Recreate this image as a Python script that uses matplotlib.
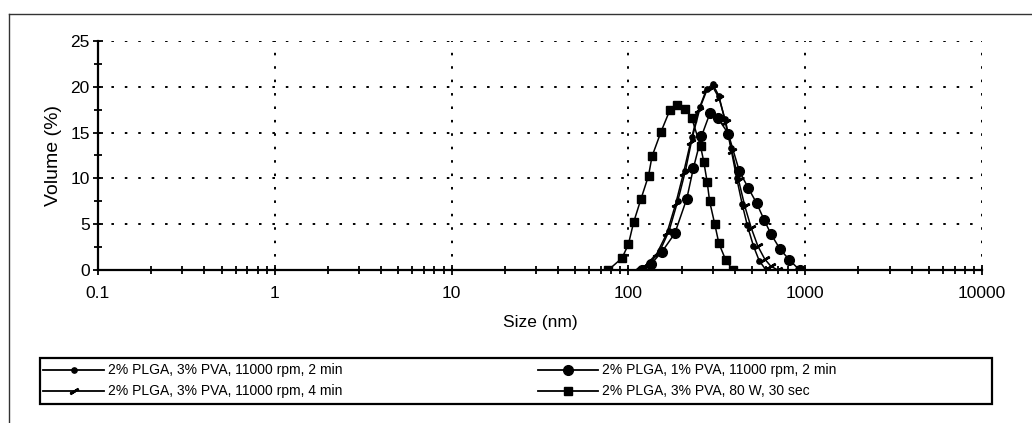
import matplotlib
matplotlib.use("Agg")
import matplotlib.pyplot as plt
from matplotlib.lines import Line2D
from matplotlib.patches import Rectangle
from matplotlib.ticker import LogLocator, FixedLocator, NullFormatter

plt.rcParams['font.family'] = ['Liberation Sans', 'DejaVu Sans']

# ---- data ----
sizes_a = [115, 130, 150, 170, 190, 210, 230, 255, 280, 300, 325, 350, 380, 410, 440, 470, 510, 550, 600]
vol_a   = [0, 0.6, 2.0, 4.3, 7.5, 10.8, 14.5, 17.8, 19.8, 20.3, 19.0, 16.5, 13.3, 10.0, 7.2, 4.9, 2.6, 1.0, 0]

sizes_b = [120, 135, 155, 183, 214, 233, 259, 289, 320, 367, 424, 475, 531, 585, 641, 720, 813, 930]
vol_b   = [0, 0.7, 2.0, 4.0, 7.8, 11.1, 14.6, 17.1, 16.6, 14.9, 10.8, 9.0, 7.3, 5.5, 3.9, 2.3, 1.1, 0]

sizes_c = [110, 125, 145, 165, 185, 205, 225, 250, 275, 300, 325, 355, 385, 420, 455, 495, 540, 590, 640, 700]
vol_c   = [0, 0.5, 1.8, 4.0, 7.2, 10.6, 14.0, 17.5, 19.6, 20.0, 18.8, 16.2, 13.0, 9.8, 7.0, 4.6, 2.6, 1.2, 0.4, 0]

sizes_d = [77, 92, 100, 107, 118, 130, 136, 153, 172, 189, 210, 228, 256, 267, 279, 288, 308, 325, 355, 390]
vol_d   = [0, 1.3, 2.8, 5.2, 7.8, 10.3, 12.4, 15.1, 17.5, 18.0, 17.6, 16.6, 13.5, 11.8, 9.6, 7.5, 5.0, 2.9, 1.1, 0]

labels = ["2% PLGA, 3% PVA, 11000 rpm, 2 min",
          "2% PLGA, 1% PVA, 11000 rpm, 2 min",
          "2% PLGA, 3% PVA, 11000 rpm, 4 min",
          "2% PLGA, 3% PVA, 80 W, 30 sec"]

x_ticks = [0.1, 1, 10, 100, 1000, 10000]
x_ticklabels = ["0.1", "1", "10", "100", "1000", "10000"]
y_ticks = [0, 5, 10, 15, 20, 25]

W, H = 1032, 423
fig = plt.figure(figsize=(W / 100, H / 100), dpi=100)
ax = fig.add_axes([98 / W, 1 - 270 / H, (982 - 98) / W, (270 - 41) / H])

styles = [
    dict(marker='o', ms=3.8),
    dict(marker='o', ms=7.0),
    dict(marker=(2, 2, -58), ms=7, mew=1.8),
    dict(marker='s', ms=5.2),
]
series = [(sizes_a, vol_a), (sizes_b, vol_b), (sizes_c, vol_c), (sizes_d, vol_d)]
for (xs, ys), st in zip(series, styles):
    ax.plot(xs, ys, color='black', lw=1.1, mfc='black', mec='black', zorder=3, **st)

ax.set_xscale('log')
ax.set_xlim(0.1, 10000)
ax.set_ylim(0, 25)
ax.xaxis.set_major_locator(FixedLocator(x_ticks))
ax.set_xticklabels(x_ticklabels)
ax.xaxis.set_minor_locator(LogLocator(base=10, subs=range(2, 10)))
ax.xaxis.set_minor_formatter(NullFormatter())
ax.yaxis.set_major_locator(FixedLocator(y_ticks))
ax.yaxis.set_minor_locator(FixedLocator([2.5, 7.5, 12.5, 17.5, 22.5]))

for s in ['top', 'right']:
    ax.spines[s].set_visible(False)
for s in ['left', 'bottom']:
    ax.spines[s].set_linewidth(1.6)

ax.tick_params(which='both', direction='inout', width=1.3, labelsize=12.5)
ax.tick_params(which='major', length=7)
ax.tick_params(which='minor', length=6)
ax.tick_params(axis='x', which='major', pad=8)
ax.tick_params(axis='y', which='major', pad=2.5)

ax.grid(True, which='major', color='black', lw=1.4, linestyle=(0, (1.3, 5.6)))
ax.set_axisbelow(True)

ax.set_xlabel("Size (nm)", fontsize=12.5, labelpad=10)
ax.set_ylabel("Volume (%)", fontsize=14, labelpad=6)

# ---- legend box ----
fig.add_artist(Rectangle((40 / W, 1 - 404 / H), (992 - 40) / W, (404 - 358) / H,
                         transform=fig.transFigure, fill=False, lw=1.6, ec='black'))
pos = [((43, 104), 370), ((538, 598), 370), ((43, 104), 391), ((538, 598), 391)]
for (xr, yy), st, lab in zip(pos, styles, labels):
    xm = (xr[0] + xr[1]) / 2
    fig.add_artist(Line2D([xr[0] / W, xr[1] / W], [1 - yy / H, 1 - yy / H],
                          transform=fig.transFigure, color='black', lw=1.3))
    fig.add_artist(Line2D([xm / W], [1 - yy / H], transform=fig.transFigure,
                          color='black', mfc='black', mec='black', lw=0, **st))
    fig.text((xr[1] + 4) / W, 1 - yy / H, lab, fontsize=10, va='center', ha='left')

# ---- outer frame (top & left) ----
fig.add_artist(Line2D([9 / W, 1031 / W], [1 - 14 / H, 1 - 14 / H], transform=fig.transFigure,
                      color='#333333', lw=1.0))
fig.add_artist(Line2D([9 / W, 9 / W], [1 - 14 / H, 0], transform=fig.transFigure,
                      color='#333333', lw=1.0))

fig.savefig("out.png", dpi=100)
